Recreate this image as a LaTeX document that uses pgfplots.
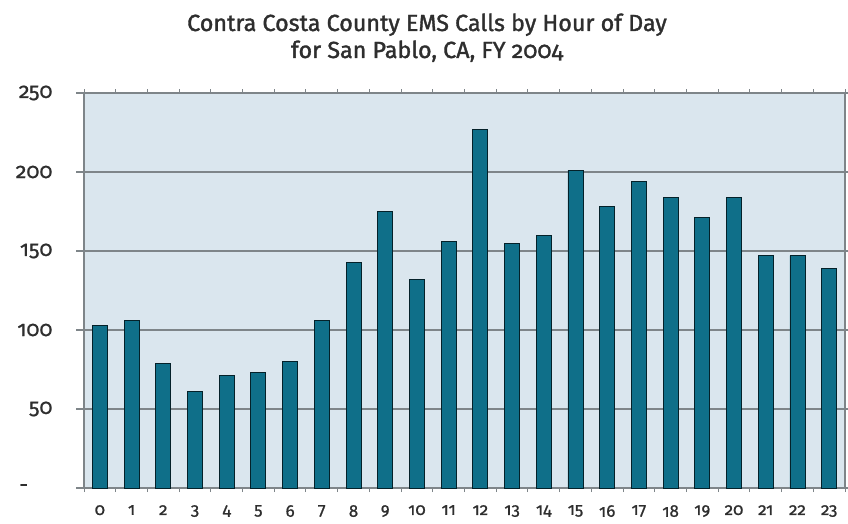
\documentclass[border=0pt]{standalone}
\usepackage{fontspec}
\setmainfont{Fira Sans}[Numbers=OldStyle, FakeBold=0.5]
\newfontfamily\titlefont{Fira Sans}[Numbers=OldStyle, FakeBold=1.5]
\newfontfamily\tickfont{Fira Sans}[Numbers=OldStyle, FakeBold=0.8]
\usepackage{pgfplots}
\pgfplotsset{compat=1.18}
\definecolor{bg}{HTML}{DAE6EE}
\definecolor{barc}{HTML}{0F6F89}
\definecolor{gridc}{HTML}{7E8589}
\definecolor{txt}{HTML}{2E2E2E}
\pgfplotstableread{
h v
0 103
1 106
2 79
3 61
4 71
5 73
6 80
7 106
8 143
9 175
10 132
11 156
12 227
13 155
14 160
15 201
16 178
17 194
18 184
19 171
20 184
21 147
22 147
23 139
}\datatable
\begin{document}
\begin{tikzpicture}[x=1pt,y=1pt]
\path[use as bounding box] (0,0) rectangle (848,523);
\node[font=\titlefont\fontsize{23.3}{26}\selectfont, text=txt, anchor=base] at (427,492) {Contra Costa County EMS Calls by Hour of Day};
\node[font=\titlefont\fontsize{23.3}{26}\selectfont, text=txt, anchor=base] at (427,465) {for San Pablo, CA, FY 2004};
\begin{axis}[
  at={(84pt,35pt)}, anchor=south west,
  scale only axis, width=761pt, height=395pt,
  xmin=-0.5, xmax=23.5, ymin=0, ymax=250,
  ytick={0,50,100,150,200,250},
  yticklabels={\makebox[33pt][l]{-},50,100,150,200,250},
  xtick={0,...,23},
  xticklabels={0,1,2,3,4,5,6,7,8,9,10,11,12,13,14,15,16,17,18,19,20,21,22,23},
  minor xtick={-0.5,0.5,...,23.5},
  major x tick style={draw=none},
  minor x tick style={draw=gridc, line width=1pt},
  y tick style={draw=gridc, line width=1.2pt},
  tick align=outside,
  major tick length=8pt, minor tick length=4pt,
  ymajorgrids, grid style={gridc, line width=1.2pt},
  axis line style={gridc, line width=1.3pt},
  axis background/.style={fill=bg},
  yticklabel style={font=\tickfont\fontsize{21.5}{24}\selectfont, text=txt, xshift=-20pt},
  xticklabel style={font=\tickfont\fontsize{17}{20}\selectfont, text=txt, yshift=-8pt, inner sep=1pt},
  /pgf/number format/assume math mode=true,
  ybar, bar width=15pt,
]
\addplot[fill=barc, draw=black!70!barc, line width=0.8pt] table[x=h, y=v] {\datatable};
\end{axis}
\end{tikzpicture}
\end{document}
